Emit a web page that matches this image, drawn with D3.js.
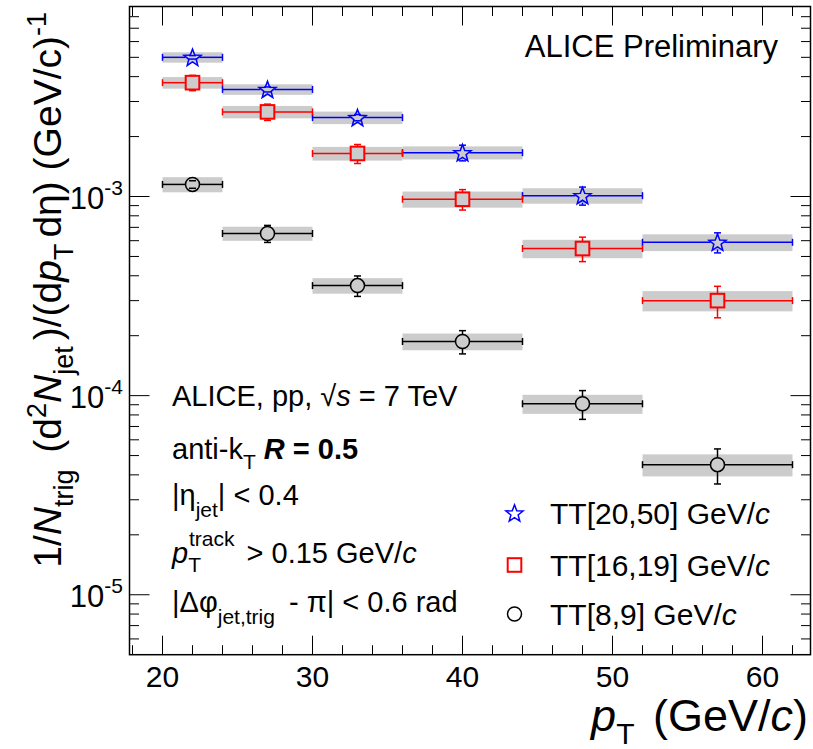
<!DOCTYPE html>
<html>
<head>
<meta charset="utf-8">
<script src="https://cdn.jsdelivr.net/npm/d3@7"></script>
<style>
  html, body { margin: 0; padding: 0; background: #fff; }
  svg text { font-family: "Liberation Sans", Arial, Helvetica, sans-serif; fill: #000; }
</style>
</head>
<body>
<svg id="chart" width="813" height="749"></svg>
<script>
// ---------------- data ----------------
const binLow   = [20, 24, 30, 36, 44, 52];
const binHigh  = [24, 30, 36, 44, 52, 62];
const binCenter = [22, 27, 33, 40, 48, 57];

const seriesNames = ["TT[20,50] GeV/", "TT[16,19] GeV/", "TT[8,9] GeV/"];

const tt2050Values = [5.0e-3, 3.45e-3, 2.49e-3, 1.66e-3, 1.01e-3, 5.89e-4];
const tt2050Stat   = [0.10e-3, 0.10e-3, 0.09e-3, 0.15e-3, 0.105e-3, 0.068e-3];
const tt2050Sys    = [0.30e-3, 0.21e-3, 0.18e-3, 0.125e-3, 0.09e-3, 0.057e-3];

const tt1619Values = [3.73e-3, 2.66e-3, 1.645e-3, 0.969e-3, 5.48e-4, 3.0e-4];
const tt1619Stat   = [0.33e-3, 0.25e-3, 0.18e-3, 0.114e-3, 0.077e-3, 0.054e-3];
const tt1619Sys    = [0.25e-3, 0.19e-3, 0.13e-3, 0.09e-3, 0.058e-3, 0.035e-3];

const tt89Values = [1.15e-3, 6.52e-4, 3.57e-4, 1.87e-4, 9.1e-5, 4.5e-5];
const tt89Stat   = [0.05e-3, 0.064e-3, 0.042e-3, 0.025e-3, 0.015e-3, 0.009e-3];
const tt89Sys    = [0.10e-3, 0.053e-3, 0.032e-3, 0.018e-3, 0.010e-3, 0.0057e-3];

const xTickValues = [20, 30, 40, 50, 60];
const yTickExponents = [-3, -4, -5];

// ---------------- layout ----------------
const svg = d3.select("#chart");
const L = 129.5, R = 810.5, T = 6.5, B = 654.7;
const x = d3.scaleLinear().domain([17.8, 63.2]).range([L, R]);
const y = d3.scaleLog().domain([5e-6, 9e-3]).range([B, T]);

const series = [
  { name: seriesNames[0], color: "#0000ff", marker: "star",   v: tt2050Values, stat: tt2050Stat, sys: tt2050Sys },
  { name: seriesNames[1], color: "#ff0000", marker: "square", v: tt1619Values, stat: tt1619Stat, sys: tt1619Sys },
  { name: seriesNames[2], color: "#000000", marker: "circle", v: tt89Values,   stat: tt89Stat,   sys: tt89Sys }
];

function starPath(R0, r0) {
  const pts = [];
  for (let i = 0; i < 10; i++) {
    const a = -Math.PI / 2 + i * Math.PI / 5;
    const rr = i % 2 === 0 ? R0 : r0;
    pts.push([rr * Math.cos(a), rr * Math.sin(a)]);
  }
  return "M" + pts.map(p => p[0].toFixed(2) + "," + p[1].toFixed(2)).join("L") + "Z";
}

function drawMarker(g, type, cx, cy, color) {
  if (type === "star") {
    g.append("path").attr("d", starPath(9, 3.8))
      .attr("transform", `translate(${cx},${cy + 0.8})`)
      .attr("fill", "none").attr("stroke", color).attr("stroke-width", 1.5).attr("stroke-linejoin", "miter");
  } else if (type === "square") {
    g.append("rect").attr("x", cx - 6.8).attr("y", cy - 6.8).attr("width", 13.6).attr("height", 13.6)
      .attr("fill", "none").attr("stroke", color).attr("stroke-width", 2);
  } else {
    g.append("circle").attr("cx", cx).attr("cy", cy).attr("r", 7)
      .attr("fill", "none").attr("stroke", color).attr("stroke-width", 1.5);
  }
}

// systematic boxes
const gBox = svg.append("g");
series.forEach(s => {
  s.v.forEach((v, i) => {
    gBox.append("rect")
      .attr("x", x(binLow[i])).attr("width", x(binHigh[i]) - x(binLow[i]))
      .attr("y", y(v + s.sys[i])).attr("height", y(v - s.sys[i]) - y(v + s.sys[i]))
      .attr("fill", "#cccccc");
  });
});

// error bars
const gErr = svg.append("g");
series.forEach(s => {
  s.v.forEach((v, i) => {
    const cx = x(binCenter[i]), cy = y(v);
    const x0 = x(binLow[i]), x1 = x(binHigh[i]);
    const yHi = y(v + s.stat[i]), yLo = y(v - s.stat[i]);
    const line = (a, b, c, d) => gErr.append("line").attr("x1", a).attr("y1", b).attr("x2", c).attr("y2", d)
      .attr("stroke", s.color).attr("stroke-width", 1.5);
    line(x0, cy, cx - 7, cy);
    line(cx + 7, cy, x1, cy);
    line(x0, cy - 3.5, x0, cy + 3.5);
    line(x1, cy - 3.5, x1, cy + 3.5);
    if (yHi < cy - 7) { line(cx, yHi, cx, cy - 7); }
    if (yLo > cy + 7) { line(cx, cy + 7, cx, yLo); }
    line(cx - 3.5, yHi, cx + 3.5, yHi);
    line(cx - 3.5, yLo, cx + 3.5, yLo);
  });
});

// markers
const gMk = svg.append("g");
series.forEach(s => {
  s.v.forEach((v, i) => drawMarker(gMk, s.marker, x(binCenter[i]), y(v), s.color));
});

// ---------------- axes / frame ----------------
const gAx = svg.append("g");
gAx.append("rect").attr("x", L).attr("y", T).attr("width", R - L).attr("height", B - T)
  .attr("fill", "none").attr("stroke", "#000").attr("stroke-width", 1.5);

const majLen = 19, minLen = 9.5;
const xTicksAll = d3.range(18, 63, 2);
xTicksAll.forEach(t => {
  const len = (t % 10 === 0) ? majLen : minLen;
  const px = x(t);
  gAx.append("line").attr("x1", px).attr("x2", px).attr("y1", B).attr("y2", B - len).attr("stroke", "#000").attr("stroke-width", 1);
  gAx.append("line").attr("x1", px).attr("x2", px).attr("y1", T).attr("y2", T + len).attr("stroke", "#000").attr("stroke-width", 1);
});
xTickValues.forEach(t => {
  gAx.append("text").attr("x", x(t)).attr("y", 687).attr("text-anchor", "middle")
    .attr("font-size", 30).text(t);
});

const yTicksAll = [];
for (let e = -6; e <= -2; e++) for (let m = 1; m <= 9; m++) {
  const v = m * Math.pow(10, e);
  if (v >= 5e-6 && v <= 9e-3) yTicksAll.push({ v, major: m === 1 });
}
yTicksAll.forEach(t => {
  const py = y(t.v);
  const len = t.major ? majLen + 1 : minLen;
  gAx.append("line").attr("x1", L).attr("x2", L + len).attr("y1", py).attr("y2", py).attr("stroke", "#000").attr("stroke-width", 1);
  gAx.append("line").attr("x1", R).attr("x2", R - len).attr("y1", py).attr("y2", py).attr("stroke", "#000").attr("stroke-width", 1);
});
yTickExponents.forEach(e => {
  const t = gAx.append("text").attr("x", 123).attr("y", y(Math.pow(10, e)) + 12)
    .attr("text-anchor", "end").attr("font-size", 31);
  t.append("tspan").text("10");
  t.append("tspan").attr("dy", -14).attr("font-size", 21).text(String(e));
});

// x axis title
const xt = svg.append("text").attr("x", 808).attr("y", 731).attr("text-anchor", "end").attr("font-size", 45);
xt.append("tspan").attr("font-style", "italic").text("p");
xt.append("tspan").attr("dy", 13).attr("font-size", 30).text("T");
xt.append("tspan").attr("dx", 6).attr("dy", -13).text(" (GeV/");
xt.append("tspan").attr("font-style", "italic").text("c");
xt.append("tspan").text(")");

// y axis title
const yt = svg.append("text").attr("transform", "translate(61,12) rotate(-90)")
  .attr("text-anchor", "end").attr("font-size", 39);
yt.append("tspan").text("1/");
yt.append("tspan").attr("font-style", "italic").text("N");
yt.append("tspan").attr("dy", 12).attr("font-size", 27).text("trig");
yt.append("tspan").attr("dx", 6).attr("dy", -12).text(" (d");
yt.append("tspan").attr("dy", -15).attr("font-size", 27).text("2");
yt.append("tspan").attr("dy", 15).attr("font-style", "italic").text("N");
yt.append("tspan").attr("dy", 12).attr("font-size", 27).text("jet");
yt.append("tspan").attr("dx", 6).attr("dy", -12).text(")/(d");
yt.append("tspan").attr("font-style", "italic").text("p");
yt.append("tspan").attr("dy", 12).attr("font-size", 27).text("T");
yt.append("tspan").attr("dx", 6).attr("dy", -12).text("dη) (GeV/c)");
yt.append("tspan").attr("dy", -15).attr("font-size", 27).text("-1");

// ALICE Preliminary
svg.append("text").attr("x", 778).attr("y", 57).attr("text-anchor", "end").attr("font-size", 31).text("ALICE Preliminary");

// info block
const info = svg.append("g").attr("font-size", 29);
const l1 = info.append("text").attr("x", 172).attr("y", 406);
l1.append("tspan").text("ALICE, pp, √");
l1.append("tspan").attr("font-style", "italic").text("s");
l1.append("tspan").text(" = 7 TeV");

const l2 = info.append("text").attr("x", 172).attr("y", 459);
l2.append("tspan").text("anti-k");
l2.append("tspan").attr("dy", 10).attr("font-size", 21).text("T");
l2.append("tspan").attr("dy", -10).text(" ");
l2.append("tspan").attr("font-weight", "bold").attr("font-style", "italic").text("R");
l2.append("tspan").attr("font-weight", "bold").text(" = 0.5");

const l3 = info.append("text").attr("x", 172).attr("y", 505);
l3.append("tspan").text("|η");
l3.append("tspan").attr("dy", 12).attr("font-size", 21).text("jet");
l3.append("tspan").attr("dy", -12).text("| < 0.4");

const l4 = info.append("text").attr("x", 172).attr("y", 563);
l4.append("tspan").attr("font-style", "italic").text("p");
l4.append("tspan").attr("dy", 9).attr("font-size", 21).text("T");
l4.append("tspan").attr("dx", -12).attr("dy", -26).attr("font-size", 21).text("track");
l4.append("tspan").attr("dx", 4).attr("dy", 17).text(" > 0.15 GeV/");
l4.append("tspan").attr("font-style", "italic").text("c");

const l5 = info.append("text").attr("x", 172).attr("y", 612);
l5.append("tspan").text("|Δφ");
l5.append("tspan").attr("dy", 12).attr("font-size", 21).text("jet,trig");
l5.append("tspan").attr("dx", 6).attr("dy", -12).text(" - π| < 0.6 rad");

// legend
const legY = [513, 565, 614];
const gLeg = svg.append("g");
series.forEach((s, i) => {
  drawMarker(gLeg, s.marker, 514.5, legY[i], s.color);
  const t = gLeg.append("text").attr("x", 550).attr("y", legY[i] + 11).attr("font-size", 30);
  t.append("tspan").text(s.name);
  t.append("tspan").attr("font-style", "italic").text("c");
});
</script>
</body>
</html>
